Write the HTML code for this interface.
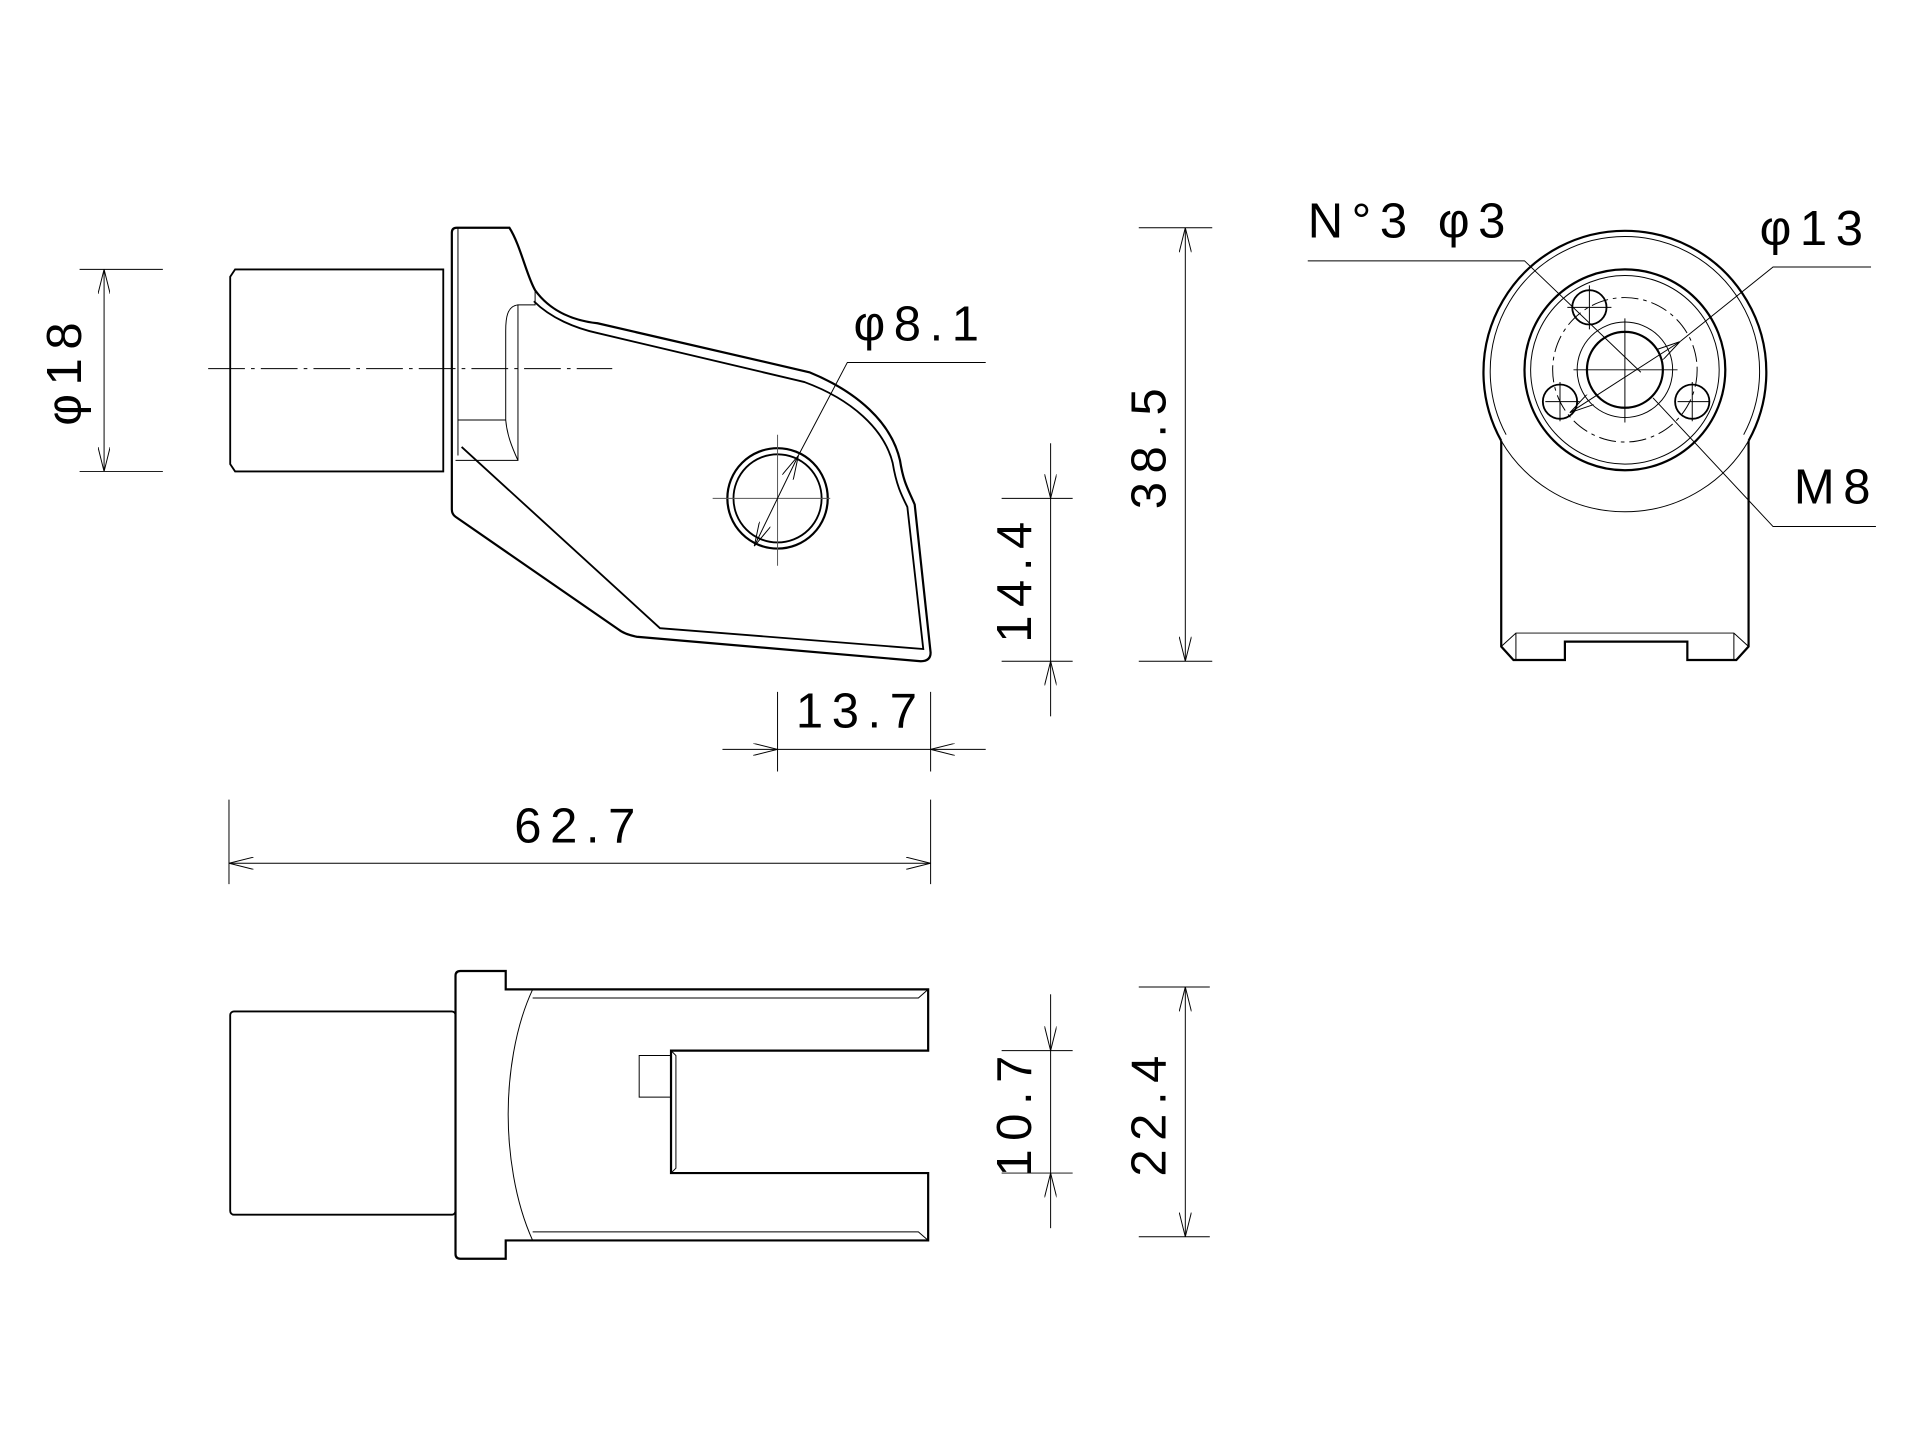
<!DOCTYPE html>
<html><head><style>html,body{margin:0;padding:0;background:#fff}svg{display:block}</style></head><body>
<svg width="1920" height="1453" viewBox="0 0 1568 1186.6" xmlns="http://www.w3.org/2000/svg" font-family="Liberation Sans, sans-serif" font-size="40" fill="none" stroke="#000">
<defs><marker id="a" viewBox="0 0 20 10" refX="20" refY="5" markerWidth="20" markerHeight="10" orient="auto-start-reverse" markerUnits="userSpaceOnUse"><path d="M0 0L20 5L0 10" stroke="#000" stroke-width="0.8" fill="none"/></marker></defs>
<g stroke-width="0.8">
<!-- side view -->
<path d="M188 226L192 220H362V385H192L188 379Z" stroke-width="1.5"/>
<path d="M362 220V385"/>
<path d="M373 186H416C425 200 430 225 437 237C450 255 470 262 488 264L661 304C700 320 728 345 735 376C738 395 742 400 747 412L760 533Q760 540 752 540L520 520Q510 518 505 514L372 422Q369 420 369 416V190Q369 186 373 186Z" stroke-width="1.8"/>
<path d="M436 246C450 260 470 268 488 272L657 312C695 326 722 350 729 378C732 396 736 404 741 414L754 530L539 513L377 365" stroke-width="1.5"/>
<path d="M374 186V372M437 237V249H423V376H372M423 249C414 250 413 260 413 270V343H374M413 343C414 355 418 365 423 376"/>
<circle cx="635" cy="407" r="41" stroke-width="1.8"/><circle cx="635" cy="407" r="36" stroke-width="1.5"/>
<path d="M170 301H500" stroke-dasharray="30 5 3 5"/>
<path d="M582 407H678M635 355V462" stroke="#555"/>
<!-- dims -->
<path d="M65 220H133M65 385H133"/><path d="M85 220V385" marker-start="url(#a)" marker-end="url(#a)"/>
<path d="M616 446L652 372" marker-start="url(#a)" marker-end="url(#a)"/><path d="M652 372L692 296H805"/>
<path d="M930 186H990M930 540H990"/><path d="M968 186V540" marker-start="url(#a)" marker-end="url(#a)"/>
<path d="M818 407H876M818 540H876"/><path d="M858 362V407" marker-end="url(#a)"/><path d="M858 585V540" marker-end="url(#a)"/><path d="M858 407V540"/>
<path d="M635 565V630M760 565V630"/><path d="M590 612H635" marker-end="url(#a)"/><path d="M805 612H760" marker-end="url(#a)"/><path d="M635 612H760"/>
<path d="M187 653V722M760 653V722"/><path d="M187 705H760" marker-start="url(#a)" marker-end="url(#a)"/>
<!-- top view -->
<rect x="188" y="826" width="184" height="166" rx="3" stroke-width="1.5"/>
<path d="M376 793H413V808H758V858H548V958H758V1013H413V1028H376Q372 1028 372 1024V797Q372 793 376 793Z" stroke-width="1.8"/>
<path d="M435 808C420 840 415 880 415 910C415 940 420 980 435 1013M435 815H750L758 808M435 1006H750L758 1013"/>
<path d="M522 862H548V896H522Z"/><path d="M548 858L552 862V954L548 958"/>
<path d="M818 858H876M818 958H876"/><path d="M858 812V858" marker-end="url(#a)"/><path d="M858 1003V958" marker-end="url(#a)"/><path d="M858 858V958"/>
<path d="M930 806H988M930 1010H988"/><path d="M968 806V1010" marker-start="url(#a)" marker-end="url(#a)"/>
<!-- front view -->
<path d="M1226 360A115.5 115.5 0 1 1 1428 360" stroke-width="1.8"/>
<path d="M1230 355A110 110 0 1 1 1424 355"/>
<path d="M1226 360V528L1236 539H1278V524H1378V539H1418L1428 528V360" stroke-width="1.8"/>
<path d="M1226 528L1238 517H1416L1428 528M1238 517V539M1416 517V539"/>
<path d="M1226 360A117 117 0 0 0 1428 360"/>
<circle cx="1327" cy="302" r="82" stroke-width="1.8"/><circle cx="1327" cy="302" r="77"/>
<circle cx="1327" cy="302" r="59" stroke-dasharray="14 4 3 4"/>
<circle cx="1327" cy="302" r="31" stroke-width="1.8"/><circle cx="1327" cy="302" r="39"/>
<circle cx="1298" cy="251" r="14" stroke-width="1.5"/><circle cx="1274" cy="328" r="14" stroke-width="1.5"/><circle cx="1382" cy="328" r="14" stroke-width="1.5"/>
<path d="M1280 251H1316M1298 233V269M1262 328H1290M1274 312V344M1370 328H1396M1382 312V344M1285 302H1370M1327 260V345"/>
<path d="M1068 213H1245L1340 304"/><path d="M1528 218H1448L1372 279"/><path d="M1372 279L1282 337" marker-start="url(#a)" marker-end="url(#a)"/>
<path d="M1532 430H1448L1350 325"/>
</g>
<g fill="#000" stroke="none" letter-spacing="7">
<text x="697" y="278">φ8.1</text>
<text x="650" y="594">13.7</text>
<text x="420" y="688">62.7</text>
<text transform="translate(66 302) rotate(-90)" text-anchor="middle">φ18</text>
<text transform="translate(952 363) rotate(-90)" text-anchor="middle">38.5</text>
<text transform="translate(842 472) rotate(-90)" text-anchor="middle">14.4</text>
<text transform="translate(842 908) rotate(-90)" text-anchor="middle">10.7</text>
<text transform="translate(952 908) rotate(-90)" text-anchor="middle">22.4</text>
<text x="1068" y="194">N°3 φ3</text>
<text x="1437" y="200">φ13</text>
<text x="1465" y="411">M8</text>
</g>
</svg>
</body></html>
